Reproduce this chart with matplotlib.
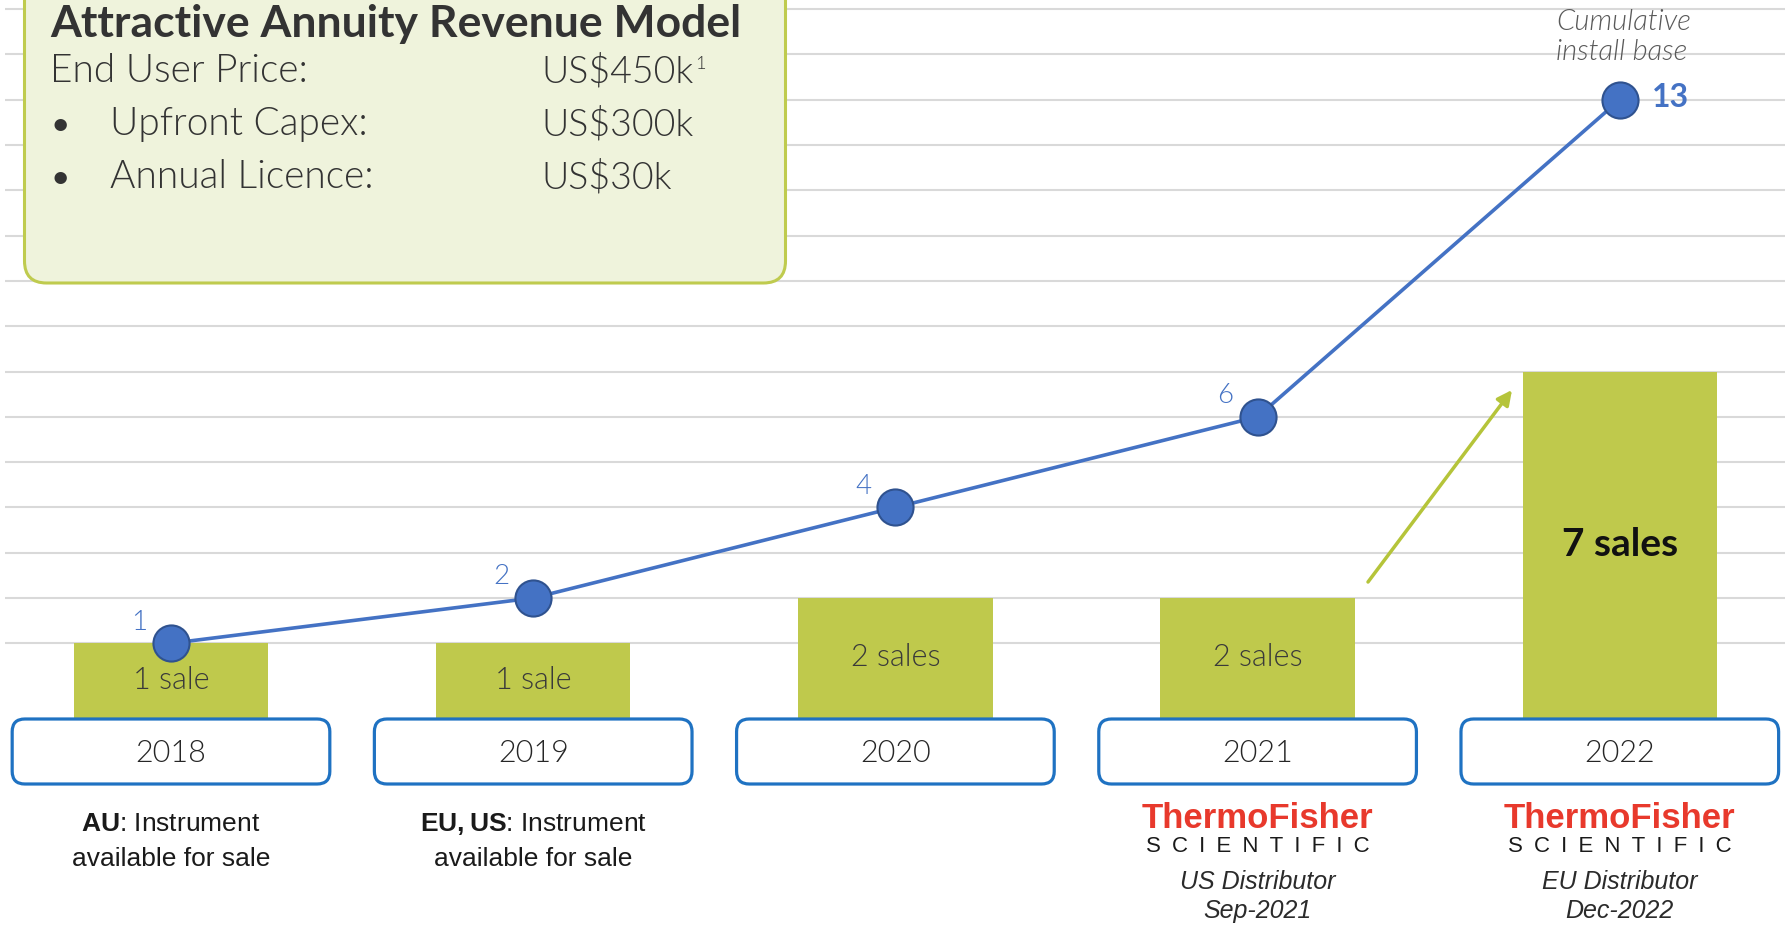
import numpy as np
import matplotlib
matplotlib.use("Agg")
import matplotlib.pyplot as plt
from matplotlib.patches import FancyBboxPatch
from matplotlib.transforms import blended_transform_factory

# data
years = ["2018", "2019", "2020", "2021", "2022"]
sales = [1, 1, 2, 2, 7]
sale_labels = ["1 sale", "1 sale", "2 sales", "2 sales", "7 sales"]
cumulative = [1, 2, 4, 6, 13]
grid_levels = np.arange(1, 16)
note_idx = [0, 1]
note_lines = [(r"$\mathbf{AU}$: Instrument", "available for sale"),
              (r"$\mathbf{EU,US}$: Instrument", "available for sale")]
dist_idx = [3, 4]
dist_lines = [("US Distributor", "Sep-2021"), ("EU Distributor", "Dec-2022")]
model_names = ["End User Price:", "Upfront Capex:", "Annual Licence:"]
model_values = ["US$450k", "US$300k", "US$30k"]

BLUE = "#4472C4"
OLIVE = "#BFC94C"
BOXBLUE = "#1F72C2"
LATO = ["Lato", "DejaVu Sans"]
LIB = ["Liberation Sans", "DejaVu Sans"]
LW = 300  # Lato Light

plt.rcParams["mathtext.fontset"] = "custom"
plt.rcParams["mathtext.bf"] = "Liberation Sans:bold"
plt.rcParams["mathtext.rm"] = "Liberation Sans"

W, H = 1785, 927
fig = plt.figure(figsize=(W / 100, H / 100), dpi=100)

# main axes: categories on x, counts on y
px_x, x0 = 362.2, 171
px_y, y0 = 45.3, 688.6
ax = fig.add_axes([0, 0, 1, 1])
ax.set_xlim(-x0 / px_x, (W - x0) / px_x)
ax.set_ylim(-(H - y0) / px_y, y0 / px_y)
for s in ax.spines.values():
    s.set_visible(False)
ax.set_xticks([])
ax.set_yticks([])
xl = ax.get_xlim()
ax.hlines(grid_levels, xl[0] + 5 / px_x, xl[1], color="#D9D9D9", lw=1.5, zorder=0)

# overlay in pixel coords (top-down) for decorations
ov = fig.add_axes([0, 0, 1, 1], zorder=3)
ov.set_xlim(0, W)
ov.set_ylim(H, 0)
ov.axis("off")
ov.patch.set_alpha(0)

xs = np.arange(len(years))
bt = blended_transform_factory(ax.transData, ov.transData)

# bars (bottom hidden behind the year boxes)
base = -0.64
ax.bar(xs, np.array(sales) - base, bottom=base, width=0.537, color=OLIVE, zorder=2)
for i, (lab, v) in enumerate(zip(sale_labels, sales)):
    if v >= 5:
        ax.text(i, (v + base) / 2, lab, ha="center", va="center", fontsize=28,
                fontweight="bold", family=LATO, color="#111111", zorder=3)
    else:
        ax.text(i, (v + base) / 2, lab, ha="center", va="center",
                fontsize=22, family=LATO, fontweight=LW, color="#3A3A3A", zorder=3)

# cumulative line
ax.plot(xs, cumulative, color=BLUE, lw=2.6, zorder=5, marker="o", ms=26,
        mfc=BLUE, mec="#2F528F", mew=1.5)
for i, v in enumerate(cumulative):
    if i == len(cumulative) - 1:
        ax.annotate(str(v), (i, v), xytext=(32, 2), textcoords="offset pixels",
                    ha="left", va="center", fontsize=23, fontweight="bold",
                    family=LATO, color=BLUE, zorder=6)
    else:
        ax.annotate(str(v), (i, v), xytext=(-32, 21), textcoords="offset pixels",
                    ha="center", va="center", fontsize=20, fontweight=LW,
                    family=LATO, color=BLUE, zorder=6)

ov.text(1556, 37, "Cumulative\ninstall base", ha="left", va="center",
        fontsize=21, style="italic", fontweight=LW, family=LATO,
        color="#595959", linespacing=1.2)

# year boxes
for i, y in enumerate(years):
    ax.add_patch(FancyBboxPatch((i - 0.4385, 719), 0.877, 65, transform=bt,
                                boxstyle="round,pad=0,rounding_size=0.035",
                                mutation_aspect=px_x, fc="white", ec=BOXBLUE,
                                lw=2.3, zorder=4))
    ax.text(i, 753, y, transform=bt, ha="center", va="center", fontsize=22,
            family=LATO, fontweight=LW, color="#262626", zorder=5)

# notes under boxes
for i, (l1, l2) in zip(note_idx, note_lines):
    ax.text(i, 824, l1, transform=bt, ha="center", va="center", fontsize=19,
            family=LIB, color="#1A1A1A")
    ax.text(i, 859, l2, transform=bt, ha="center", va="center", fontsize=19,
            family=LIB, color="#1A1A1A")

for i, (l1, l2) in zip(dist_idx, dist_lines):
    ax.text(i, 818, "ThermoFisher", transform=bt, ha="center", va="center",
            fontsize=25, fontweight="bold", family=LIB, color="#E8392C")
    ax.text(i, 846, "\u2002".join("SCIENTIFIC"), transform=bt, ha="center",
            va="center", fontsize=16, family=LIB, color="#1A1A1A")
    ax.text(i, 882, l1, transform=bt, ha="center", va="center", fontsize=18,
            style="italic", family=LIB, color="#2B2B2B")
    ax.text(i, 911, l2, transform=bt, ha="center", va="center", fontsize=18,
            style="italic", family=LIB, color="#2B2B2B")

# growth arrow
ov.annotate("", xy=(1512, 390), xytext=(1368, 582),
            arrowprops=dict(arrowstyle="-|>", color="#B5C43A", lw=2.5,
                            mutation_scale=22, shrinkA=0, shrinkB=0))

# revenue model box
ov.add_patch(FancyBboxPatch((24.5, -40), 761, 323,
                            boxstyle="round,pad=0,rounding_size=22",
                            fc="#EFF3DC", ec="#BFCB4E", lw=2.2))
ov.text(50, 37, "Attractive Annuity Revenue Model", ha="left", va="baseline",
        fontsize=32, fontweight="bold", family=LATO, color="#333333")
rows_y = [82, 135, 188]
for k, (name, val, yy) in enumerate(zip(model_names, model_values, rows_y)):
    if k == 0:
        ov.text(50, yy, name, ha="left", va="baseline", fontsize=28,
                family=LATO, fontweight=LW, color="#333333")
    else:
        ov.text(50, yy, "\u2022", ha="left", va="baseline", fontsize=24,
                family=LATO, color="#333333")
        ov.text(110, yy, name, ha="left", va="baseline", fontsize=28,
                family=LATO, fontweight=LW, color="#333333")
    t = ov.text(541, yy, val, ha="left", va="baseline", fontsize=27,
                family=LATO, fontweight=LW, color="#333333")
    if k == 0:
        ov.annotate("1", xy=(1, 1), xycoords=t, xytext=(2, -2),
                    textcoords="offset pixels", ha="left", va="top",
                    fontsize=13, family=LATO, fontweight=LW, color="#333333")

fig.savefig("out.png", dpi=100)
